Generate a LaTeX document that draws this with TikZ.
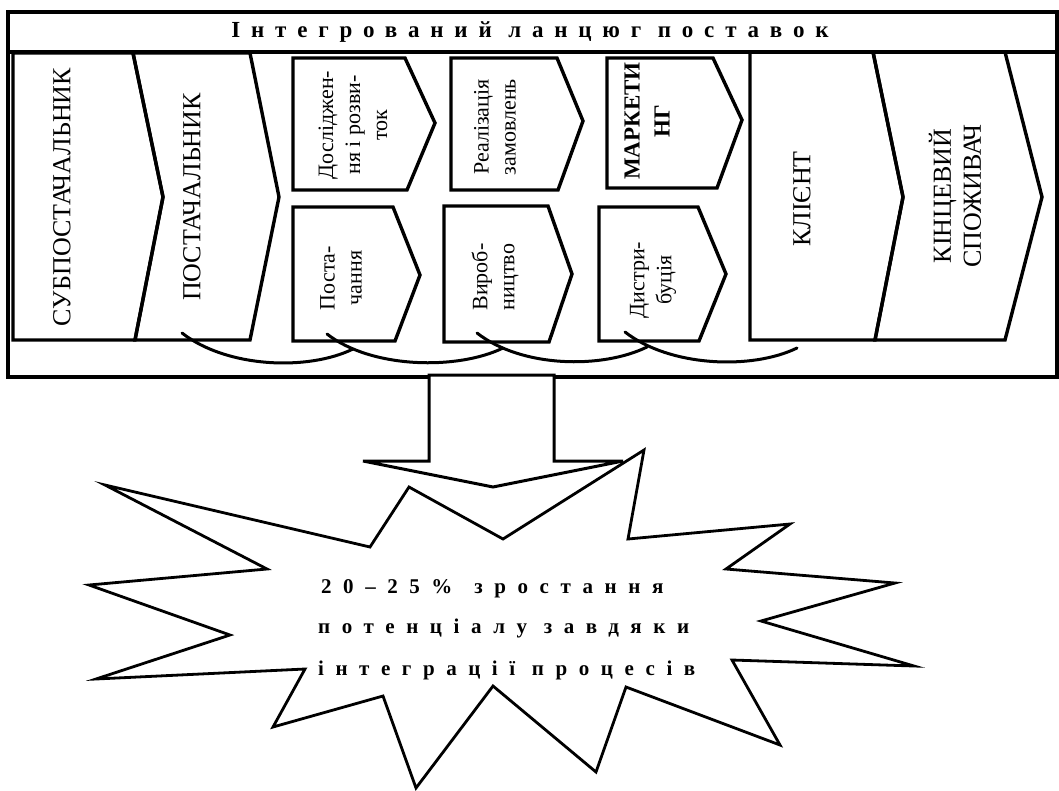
\documentclass[tikz,border=0pt]{standalone}
\usepackage{fontspec}
\setmainfont{Liberation Serif}
\newfontfamily\titlefont[LetterSpace=47]{Liberation Serif}
\newfontfamily\burstfont[LetterSpace=55]{Liberation Serif}
\usetikzlibrary{calc}
\tikzset{
    chev/.style={draw=black, line width=3.4pt, line join=miter},
    caption/.style={rotate=90, align=center, inner sep=0pt, font=\fontsize{22}{27}\selectfont},
    bigcaption/.style={rotate=90, align=center, inner sep=0pt, font=\fontsize{26}{30}\selectfont},
    swoosh/.style={line width=3pt, line cap=round},
    bursttext/.style={anchor=west, inner sep=0pt, font=\burstfont\bfseries\fontsize{21}{25}\selectfont},
}

\begin{document}
\begin{tikzpicture}[x=1pt, y=-1pt]
\useasboundingbox (0,0) rectangle (1059,790);

\draw[line width=3.2pt] (8,12) rectangle (1057,377);
\draw[line width=3.2pt] (8,52) -- (1057,52);
\node[font=\titlefont\bfseries\fontsize{23}{26}\selectfont, inner sep=0pt] (title) at (530,32) {Інтегрований ланцюг поставок};

\draw[chev] (13,53) -- (133,53) -- (163,197) -- (135,340) -- (13,340) -- cycle;
\draw[chev] (133,53) -- (250,53) -- (279,197) -- (250,340) -- (135,340) -- (163,197) -- cycle;
\draw[chev] (293,58) -- (405,58) -- (435,123) -- (407,190) -- (293,190) -- cycle;
\draw[chev] (451,58) -- (557,58) -- (583,121) -- (558,190) -- (451,190) -- cycle;
\draw[chev] (607,58) -- (713,58) -- (742,120) -- (717,188) -- (607,188) -- cycle;
\draw[chev] (293,207) -- (393,207) -- (420,275) -- (395,341) -- (293,341) -- cycle;
\draw[chev] (444,206) -- (548,206) -- (572,274) -- (549,342) -- (444,342) -- cycle;
\draw[chev] (599,207) -- (698,207) -- (726,274) -- (699,341) -- (599,341) -- cycle;
\draw[chev] (750,52) -- (873,52) -- (903,197) -- (875,340) -- (750,340) -- cycle;
\draw[chev] (873,52) -- (1005,52) -- (1042,197) -- (1005,340) -- (875,340) -- (903,197) -- cycle;

\node[bigcaption] (subsupplier) at (62,197) {СУБПОСТАЧАЛЬНИК};
\node[bigcaption] (supplier) at (192,197) {ПОСТАЧАЛЬНИК};
\node[caption] (research) at (353,125) {Дослiджен-\\ня і розви-\\ток};
\node[caption] (orders) at (495,127) {Реалізація\\замовлень};
\node[caption, font=\bfseries\fontsize{23}{30}\selectfont] (marketing) at (647,121) {МАРКЕТИ\\НГ};
\node[caption] (procurement) at (341,278) {Поста-\\чання};
\node[caption] (production) at (495,277) {Вироб-\\ництво};
\node[caption] (distribution) at (653,280) {Дистри-\\буція};
\node[bigcaption] (client) at (802,199) {КЛІЄНТ};
\node[bigcaption] (enduser) at (955,196) {КІНЦЕВИЙ\\СПОЖИВАЧ};

\coordinate (s1) at (182,333);
\coordinate (e1) at (353,349);
\coordinate (s2) at (327,334);
\coordinate (e2) at (503,348);
\coordinate (s3) at (477,333);
\coordinate (e3) at (647,347);
\coordinate (s4) at (625,332);
\coordinate (e4) at (797,348);
\foreach \i in {1,...,4}
    \draw[swoosh] (s\i) .. controls +(45,35) and +(-45,22) .. (e\i);

\draw[line width=3pt, fill=white] (429,375) -- (554,375) -- (554,461) -- (623,461) -- (493,487) -- (363,461) -- (429,461) -- cycle;

\draw[line width=2.8pt, line join=miter] (105,485) -- (370,547) -- (409,487) -- (503,539) -- (644,450) -- (628,539)
    -- (790,524) -- (726,569) -- (895,583) -- (761,621) -- (914,666) -- (732,660)
    -- (780,745) -- (626,687) -- (596,772) -- (493,686) -- (416,788) -- (383,696)
    -- (273,727) -- (305,669) -- (96,679) -- (230,635) -- (89,585) -- (267,569) -- cycle;

\node[bursttext] (line1) at (321,589) {20–25\%\hspace{22pt}зростання};
\node[bursttext] (line2) at (318,628) {потенціалу завдяки};
\node[bursttext] (line3) at (318,670) {інтеграції процесів};

\end{tikzpicture}
\end{document}
